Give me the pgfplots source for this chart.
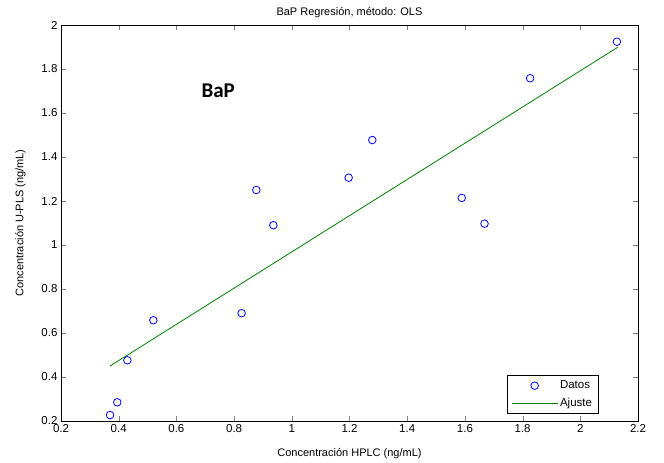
\documentclass[border=0pt]{standalone}
\usepackage{pgfplots}
\pgfplotsset{compat=1.18}
\usepackage{fontspec}
\setmainfont{Liberation Sans}
\newfontfamily\carlito{Carlito}
\definecolor{mblue}{RGB}{0,0,255}
\definecolor{mgreen}{RGB}{0,128,0}
\pgfplotsset{
  marklegend/.style={legend image code/.code={\draw[mark repeat=2,mark phase=2,##1] plot coordinates {(0bp,0bp) (23bp,0bp) (46bp,0bp)};}},
  linelegend/.style={legend image code/.code={\draw[##1] (0bp,0bp) -- (46bp,0bp);}},
}
\begin{document}
\begin{tikzpicture}
\begin{axis}[
  name=ax,
  scale only axis,
  width=577bp, height=396bp,
  xmin=0.2, xmax=2.2, ymin=0.2, ymax=2,
  xtick={0.2,0.4,...,2.21}, ytick={0.2,0.4,...,2.01},
  tick align=inside,
  major tick length=5bp,
  /pgf/number format/assume math mode=true,
  /pgf/number format/.cd, fixed, precision=1, /pgfplots/.cd,
  tick label style={font=\fontsize{11.5bp}{13bp}\selectfont},
  label style={font=\fontsize{11bp}{13bp}\selectfont},
  title style={font=\fontsize{11bp}{13bp}\selectfont, yshift=-2bp},
  title={BaP Regresión, método: OLS},
  xlabel={Concentración HPLC (ng/mL)},
  ylabel={Concentración U-PLS (ng/mL)},
  xlabel style={yshift=-9bp},
  ylabel style={yshift=9bp},
  legend style={at={(0.931,0.018)}, anchor=south east, font=\fontsize{11.5bp}{13bp}\selectfont, draw=black, inner xsep=4bp, inner ysep=3.5bp, row sep=4bp},
  legend cell align=left,
  axis line style={black, line width=0.8bp},
]
\addplot[only marks, mark=o, mark size=3.8bp, mblue, mark options={line width=0.8bp}, marklegend] coordinates {
(0.37,0.227) (0.395,0.285) (0.43,0.476) (0.52,0.658) (0.826,0.69)
(0.877,1.25) (0.936,1.09) (1.197,1.306) (1.279,1.477) (1.589,1.214)
(1.668,1.097) (1.826,1.758) (2.127,1.924)
};
\addlegendentry{Datos}
\addplot[mgreen, line width=0.8bp, linelegend] coordinates {(0.37,0.45) (2.13,1.899)};
\addlegendentry{Ajuste}
\node[font=\carlito\bfseries\fontsize{21bp}{24bp}\selectfont] at (axis cs:0.745,1.70) {BaP};
\end{axis}
\pgfresetboundingbox
\path ([shift={(-61bp,-42bp)}]ax.south west) rectangle ([shift={(26bp,25bp)}]ax.north east);
\end{tikzpicture}
\end{document}
